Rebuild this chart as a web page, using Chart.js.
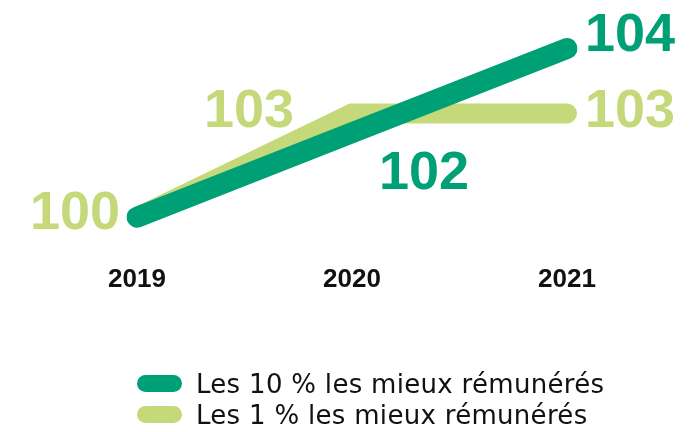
<!DOCTYPE html>
<html>
<head>
<meta charset="utf-8">
<script src="https://cdn.jsdelivr.net/npm/chart.js@4/dist/chart.umd.min.js"></script>
<style>
    body { margin: 0; background: #fff; }
    #wrap { position: relative; width: 697px; height: 432px; }
    #legend { position: absolute; left: 137px; top: 368px; font-family: "DejaVu Sans", sans-serif; font-size: 26px; letter-spacing: 0.3px; color: #111; }
    .item { display: flex; align-items: center; height: 31px; }
    .swatch { width: 45px; height: 17px; border-radius: 9px; margin-right: 14px; }
</style>
</head>
<body>
<div id="wrap">
    <canvas id="chart" width="697" height="432"></canvas>
    <div id="legend"></div>
</div>
<script>
// data
const years = ["2019", "2020", "2021"];
const top10 = [100, 102, 104];
const top1 = [100, 103, 103];
const seriesLabels = ["Les 10 % les mieux rémunérés", "Les 1 % les mieux rémunérés"];

const colors = {
    dark: "rgb(0, 160, 118)",
    light: "rgb(197, 216, 122)",
};

// where each value label sits relative to its point: [dx, dy, align]
const labelPlacement = [
    [null, [27, 41, "left"], [18, -12, "left"]],
    [[-17, -3, "right"], [-58, -1, "right"], [18, -1, "left"]],
];

const valueLabels = {
    id: "valueLabels",
    afterDatasetsDraw(chart) {
        const ctx = chart.ctx;
        ctx.save();
        ctx.font = "bold 54px 'Liberation Sans', sans-serif";
        ctx.textBaseline = "middle";
        chart.data.datasets.forEach((ds, i) => {
            const meta = chart.getDatasetMeta(i);
            meta.data.forEach((pt, j) => {
                const place = labelPlacement[i][j];
                if (!place) return;
                ctx.fillStyle = ds.borderColor;
                ctx.textAlign = place[2];
                ctx.fillText(String(ds.data[j]), pt.x + place[0], pt.y + place[1]);
            });
        });
        ctx.restore();
    },
};

new Chart(document.getElementById("chart"), {
    type: "line",
    data: {
        labels: years,
        datasets: [
            {
                label: seriesLabels[0],
                data: top10,
                borderColor: colors.dark,
                borderWidth: 21,
                borderCapStyle: "round",
                borderJoinStyle: "round",
                pointRadius: 0,
                tension: 0,
                yAxisID: "y",
            },
            {
                label: seriesLabels[1],
                data: top1,
                borderColor: colors.light,
                borderWidth: 20,
                borderCapStyle: "round",
                borderJoinStyle: "miter",
                pointRadius: 0,
                tension: 0,
                yAxisID: "y1",
            },
        ],
    },
    options: {
        responsive: false,
        animation: false,
        layout: { padding: { left: 137, right: 130, top: 20, bottom: 127 } },
        plugins: { legend: { display: false }, tooltip: { enabled: false } },
        scales: {
            x: {
                offset: false,
                grid: { display: false, drawTicks: false },
                border: { display: false },
                ticks: {
                    color: "#111",
                    padding: 10,
                    font: { family: "'Liberation Sans', sans-serif", size: 26, weight: "bold" },
                },
            },
            y: { display: false, min: 99.133, max: 104.675 },
            y1: { display: false, min: 98.941, max: 105.706 },
        },
    },
    plugins: [valueLabels],
});

// legend
const legend = document.getElementById("legend");
[colors.dark, colors.light].forEach((c, i) => {
    const row = document.createElement("div");
    row.className = "item";
    const sw = document.createElement("span");
    sw.className = "swatch";
    sw.style.background = c;
    const tx = document.createElement("span");
    tx.textContent = seriesLabels[i];
    row.appendChild(sw);
    row.appendChild(tx);
    legend.appendChild(row);
});
</script>
</body>
</html>
